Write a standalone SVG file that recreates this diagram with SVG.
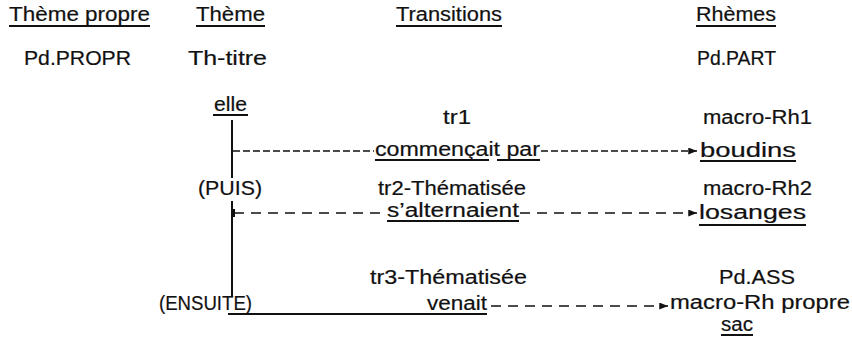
<svg xmlns="http://www.w3.org/2000/svg" width="852" height="353" viewBox="0 0 852 353">
  <style>
    text { font-family: "Liberation Sans", Arial, sans-serif; font-size: 20px; fill: #111; stroke: #111; stroke-width: 0.2; }
    .ul { stroke: #111; stroke-width: 2; fill: none; }
    .solid { stroke: #111; stroke-width: 2; fill: none; }
    .dash-fine { stroke: #111; stroke-width: 1.6; fill: none; stroke-dasharray: 7 3; }
    .dash-wide { stroke: #111; stroke-width: 1.6; fill: none; stroke-dasharray: 10 7; }
  </style>
  <defs>
    <marker id="arrow" viewBox="0 0 10 8" refX="10" refY="4" markerWidth="10" markerHeight="7" markerUnits="userSpaceOnUse" orient="auto">
      <path d="M0,0 L10,4 L0,8 Z" fill="#111"/>
    </marker>
  </defs>

  <rect width="852" height="353" fill="#fff"/>

  <!-- column headings -->
  <g id="head-theme-propre">
    <text x="9" y="21" textLength="141" lengthAdjust="spacingAndGlyphs">Thème propre</text>
    <line class="ul" x1="9" y1="26" x2="150" y2="26"/>
  </g>
  <g id="head-theme">
    <text x="196" y="21" textLength="69" lengthAdjust="spacingAndGlyphs">Thème</text>
    <line class="ul" x1="196" y1="26" x2="265" y2="26"/>
  </g>
  <g id="head-transitions">
    <text x="396" y="21" textLength="106" lengthAdjust="spacingAndGlyphs">Transitions</text>
    <line class="ul" x1="396" y1="26" x2="502" y2="26"/>
  </g>
  <g id="head-rhemes">
    <text x="696" y="21" textLength="80" lengthAdjust="spacingAndGlyphs">Rhèmes</text>
    <line class="ul" x1="696" y1="26" x2="776" y2="26"/>
  </g>

  <!-- second row -->
  <g id="pd-propr"><text x="24" y="65" textLength="107" lengthAdjust="spacingAndGlyphs">Pd.PROPR</text></g>
  <g id="th-titre"><text x="188" y="65" textLength="79" lengthAdjust="spacingAndGlyphs">Th-titre</text></g>
  <g id="pd-part"><text x="697" y="65" textLength="79" lengthAdjust="spacingAndGlyphs">Pd.PART</text></g>

  <!-- theme column -->
  <g id="elle">
    <text x="214" y="111" textLength="33" lengthAdjust="spacingAndGlyphs">elle</text>
    <line class="ul" x1="213" y1="115" x2="248" y2="115"/>
  </g>
  <g id="puis"><text x="198" y="195" textLength="64" lengthAdjust="spacingAndGlyphs">(PUIS)</text></g>
  <g id="ensuite"><text x="159" y="310" textLength="93" lengthAdjust="spacingAndGlyphs">(ENSUITE)</text></g>

  <!-- transitions column -->
  <g id="tr1"><text x="443" y="124" textLength="28" lengthAdjust="spacingAndGlyphs">tr1</text></g>
  <g id="commencait-par">
    <text x="375" y="156" textLength="165" lengthAdjust="spacingAndGlyphs">commençait par</text>
    <line class="ul" x1="375" y1="160" x2="489" y2="160"/>
    <line class="ul" x1="497" y1="160" x2="540" y2="160"/>
  </g>
  <g id="tr2"><text x="378" y="195" textLength="148" lengthAdjust="spacingAndGlyphs">tr2-Thématisée</text></g>
  <g id="s-alternaient">
    <text x="387" y="217" textLength="132" lengthAdjust="spacingAndGlyphs">s’alternaient</text>
    <line class="ul" x1="387" y1="221" x2="519" y2="221"/>
  </g>
  <g id="tr3"><text x="370" y="284" textLength="157" lengthAdjust="spacingAndGlyphs">tr3-Thématisée</text></g>
  <g id="venait"><text x="427" y="310" textLength="60" lengthAdjust="spacingAndGlyphs">venait</text></g>

  <!-- rheme column -->
  <g id="macro-rh1"><text x="703" y="124" textLength="109" lengthAdjust="spacingAndGlyphs">macro-Rh1</text></g>
  <g id="boudins">
    <text x="700" y="157" textLength="96" lengthAdjust="spacingAndGlyphs">boudins</text>
    <line class="ul" x1="700" y1="161" x2="796" y2="161"/>
  </g>
  <g id="macro-rh2"><text x="703" y="195" textLength="109" lengthAdjust="spacingAndGlyphs">macro-Rh2</text></g>
  <g id="losanges">
    <text x="699" y="219" textLength="107" lengthAdjust="spacingAndGlyphs">losanges</text>
    <line class="ul" x1="699" y1="225" x2="806" y2="225"/>
  </g>
  <g id="pd-ass"><text x="719" y="284" textLength="76" lengthAdjust="spacingAndGlyphs">Pd.ASS</text></g>
  <g id="macro-rh-propre"><text x="670" y="309" textLength="180" lengthAdjust="spacingAndGlyphs">macro-Rh propre</text></g>
  <g id="sac">
    <text x="721" y="331" textLength="32" lengthAdjust="spacingAndGlyphs">sac</text>
    <line class="ul" x1="721" y1="335" x2="753" y2="335"/>
  </g>

  <!-- connectors -->
  <g id="connectors">
    <!-- theme spine -->
    <line class="solid" x1="232" y1="120" x2="232" y2="178"/>
    <line class="solid" x1="232" y1="201" x2="232" y2="297"/>
    <!-- elle → commençait par → boudins -->
    <line class="dash-fine" x1="233" y1="151" x2="374" y2="151"/>
    <line class="dash-fine" x1="541" y1="151" x2="697" y2="151" marker-end="url(#arrow)"/>
    <!-- (PUIS) → s'alternaient → losanges -->
    <line class="ul" x1="234" y1="209" x2="234" y2="217"/>
    <line class="dash-wide" x1="234" y1="213" x2="387" y2="213"/>
    <line class="dash-wide" x1="520" y1="213" x2="697" y2="213" marker-end="url(#arrow)"/>
    <!-- (ENSUITE) → venait → macro-Rh propre -->
    <line class="ul" x1="228" y1="314" x2="487" y2="314"/>
    <line class="dash-wide" x1="491" y1="306" x2="668" y2="306" marker-end="url(#arrow)"/>
  </g>
</svg>
